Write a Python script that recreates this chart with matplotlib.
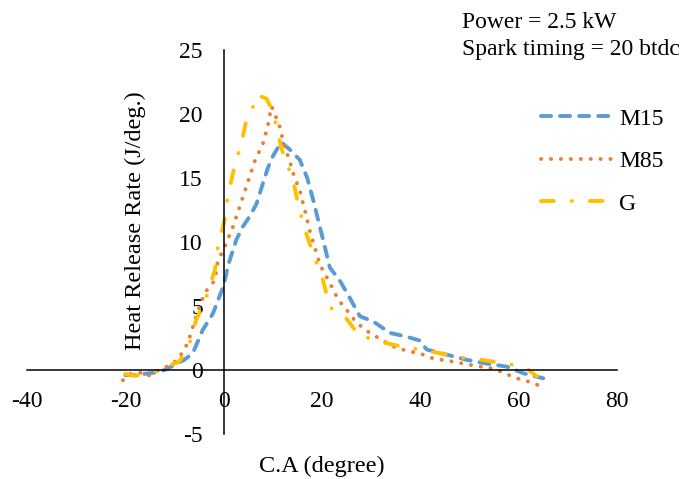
import matplotlib
matplotlib.use("Agg")
import matplotlib.pyplot as plt

plt.rcParams['font.family'] = ['Liberation Serif', 'DejaVu Serif']

# ---- data ----
m15_x = [-20, -18, -16, -14, -12, -10, -8, -6.3, -4.3, -2.2, 0, 1, 2.6, 3.9, 5.3, 6.7, 8, 9, 10, 11.7,
         13.8, 15.5, 17, 18.2, 20.2, 21.6, 23.6, 25.7, 27.7, 30.4, 33.8, 37.2, 39.9, 41.3, 45.4,
         49.4, 53.5, 57.6, 61, 65]
m15_y = [-0.4, -0.4, -0.3, -0.2, 0.0, 0.4, 0.8, 1.3, 3.1, 4.4, 6.6, 8.3, 10.2, 11.2, 12.0, 13.0,
         14.6, 15.8, 16.7, 17.8, 17.1, 16.4, 15.0, 13.3, 10.2, 8.0, 7.0, 5.6, 4.2, 3.8, 2.9, 2.6,
         2.3, 1.6, 1.2, 0.8, 0.5, 0.26, -0.26, -0.65]

m85_x = [-20.5, -19, -17, -15.5, -14, -12.7, -9.3, -7.3, -5.6, -3.9, -1.8, -1.2, 0.2, 1.9, 3.3,
         4.6, 6.3, 8, 9, 9.7, 10.2, 11.4, 12.4, 13.4, 14.1, 15.5, 16.5, 17.5, 19.6, 21.6, 23.3,
         25, 27, 29.7, 32.4, 35.2, 38.5, 40.6, 42.6, 46.7, 50.1, 54.2, 56.2, 59.6, 63, 65]
m85_y = [-0.8, -0.3, -0.2, -0.5, -0.1, 0.0, 0.8, 2.1, 4.2, 6.0, 7.0, 8.5, 9.6, 11.2, 12.8, 14.3,
         16.3, 17.7, 19.1, 20.6, 20.2, 19.0, 17.4, 16.4, 15.4, 14.0, 12.5, 10.9, 8.2, 6.8, 5.5,
         4.7, 3.7, 2.9, 2.3, 1.7, 1.4, 1.2, 0.9, 0.65, 0.4, 0.15, -0.1, -0.65, -1.0, -1.4]

g_x = [-20, -19, -18, -16, -14, -11.7, -9, -7, -5.6, -3.5, -1.8, -1.2, 0.2, 0.9, 2.2, 3.6, 4.6,
       5.6, 6.7, 8.7, 10, 11.7, 12.8, 14, 15.1, 16.5, 18.2, 20.2, 21.6, 23.3, 25, 27.7, 29.7, 33,
       37.9, 40.6, 44, 48.7, 50.8, 54.8, 58.9, 61.6, 63.7]
g_y = [-0.3, -0.4, -0.45, -0.35, -0.1, 0.26, 0.65, 2.0, 3.9, 5.7, 7.8, 9.6, 11.7, 13.7, 15.9,
       17.7, 19.5, 20.1, 21.5, 21.2, 20.2, 17.4, 16.1, 15.1, 13.0, 11.0, 9.1, 7.0, 4.9, 4.5, 4.0,
       2.6, 2.5, 2.1, 1.7, 1.6, 1.3, 0.96, 0.9, 0.65, 0.4, 0.13, -0.5]

x_ticks = [-40, -20, 0, 20, 40, 60, 80]
y_ticks = [-5, 0, 5, 10, 15, 20, 25]

# ---- figure ----
W, H = 686, 479
FS = 17
fig = plt.figure(figsize=(W / 100, H / 100), dpi=100)
ax = fig.add_axes([27 / W, 1 - 434 / H, 590 / W, 384 / H])

lw = 2.8
ax.plot(m15_x, m15_y, color='#5B9BD5', lw=lw, linestyle=(0, (2.6, 2.3)),
        dash_capstyle='round', label='M15')
ax.plot(m85_x, m85_y, color='#ED7D31', lw=lw, linestyle=(0, (0.05, 2.5)),
        dash_capstyle='round', label='M85')
ax.plot(g_x, g_y, color='#FFC000', lw=lw, linestyle=(0, (3.3, 4.6, 0.05, 4.6)),
        dash_capstyle='round', label='G')

ax.set_xlim(-40, 80)
ax.set_ylim(-5, 25)
ax.set_xticks(x_ticks)
ax.set_yticks(y_ticks)
ax.set_xticklabels([str(v) for v in x_ticks])
ax.set_yticklabels([str(v) for v in y_ticks])

for s in ['top', 'right']:
    ax.spines[s].set_visible(False)
ax.spines['left'].set_position(('data', 0))
ax.spines['bottom'].set_position(('data', 0))
for s in ['left', 'bottom']:
    ax.spines[s].set_linewidth(1.1)
    ax.spines[s].set_color('black')
ax.tick_params(axis='x', length=0, labelsize=FS, pad=15)
ax.tick_params(axis='y', length=0, labelsize=FS, pad=15)

fig.text(135 / W, 1 - 221 / H, 'Heat Release Rate (J/deg.)', rotation=90,
         ha='center', va='center', fontsize=17.5)
fig.text(322 / W, 1 - 466 / H, 'C.A (degree)', ha='center', va='center', fontsize=17.5)

fig.text(462 / W, 1 - 23 / H, 'Power = 2.5 kW', ha='left', va='center', fontsize=FS)
fig.text(462 / W, 1 - 50 / H, 'Spark timing = 20 btdc', ha='left', va='center', fontsize=FS)

ax.legend(loc='upper left', bbox_to_anchor=(541 / W, 1 - 108 / H),
          bbox_transform=fig.transFigure, frameon=False, fontsize=FS,
          handlelength=3.05, handletextpad=0.25, labelspacing=0.89,
          borderpad=0, borderaxespad=0)

fig.savefig('out.png', dpi=100)
